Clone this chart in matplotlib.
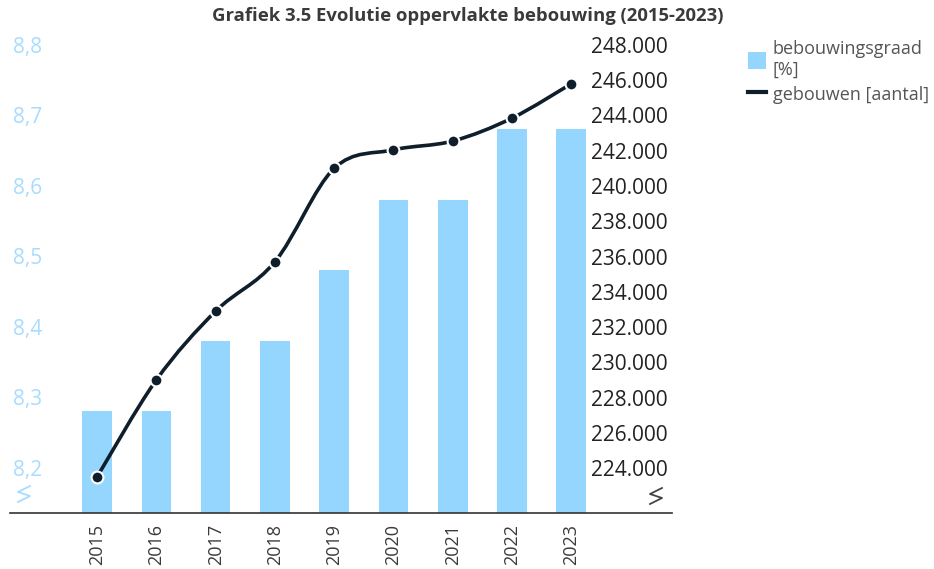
import matplotlib
matplotlib.use('Agg')
import matplotlib.pyplot as plt
from matplotlib.path import Path
from matplotlib.patches import PathPatch, Patch
from matplotlib.lines import Line2D
import numpy as np

plt.rcParams['font.family'] = ['Open Sans', 'DejaVu Sans']

# Data
years = ['2015', '2016', '2017', '2018', '2019', '2020', '2021', '2022', '2023']
bebouwingsgraad = [8.28, 8.28, 8.38, 8.38, 8.48, 8.58, 8.58, 8.68, 8.68]
gebouwen = [223500, 229000, 232900, 235700, 241000, 242050, 242550, 243850, 245800]
left_ticks = [8.2, 8.3, 8.4, 8.5, 8.6, 8.7, 8.8]
right_ticks = [224000, 226000, 228000, 230000, 232000, 234000, 236000,
               238000, 240000, 242000, 244000, 246000, 248000]

bar_color = '#94d6fe'
line_color = '#0f1e2b'
text_color = '#3a3a3a'
left_label_color = '#a8dcff'

fig = plt.figure(figsize=(9.34, 5.69), dpi=100)
W, H = 934, 569
ax = fig.add_axes([10 / W, (H - 513) / H, (672 - 10) / W, (513 - 30) / H])
ax2 = ax.twinx()

x = np.arange(len(years))
ax.bar(x, bebouwingsgraad, width=0.5, color=bar_color, zorder=1)
ax.set_xlim(-1.47, 9.70)
ax.set_ylim(8.136, 8.821)
ax2.set_ylim(221447, 248851)

# smooth line (catmull-rom as bezier path in data coords)
pts = np.column_stack([x, gebouwen]).astype(float)
verts = [tuple(pts[0])]
codes = [Path.MOVETO]
n = len(pts)
for i in range(n - 1):
    p0 = pts[i - 1] if i > 0 else pts[i]
    p1 = pts[i]
    p2 = pts[i + 1]
    p3 = pts[i + 2] if i + 2 < n else pts[i + 1]
    c1 = p1 + (p2 - p0) / 6.0
    c2 = p2 - (p3 - p1) / 6.0
    verts += [tuple(c1), tuple(c2), tuple(p2)]
    codes += [Path.CURVE4] * 3
ax2.add_patch(PathPatch(Path(verts, codes), facecolor='none', edgecolor=line_color,
                        lw=2.6, zorder=3, capstyle='round'))
ax2.plot(x, gebouwen, 'o', ms=8.5, mfc=line_color, mec='white', mew=1.5, zorder=4)

# axes styling
for a in (ax, ax2):
    for s in ('top', 'left', 'right'):
        a.spines[s].set_visible(False)
ax2.spines['bottom'].set_visible(False)
ax.spines['bottom'].set_color('#333333')
ax.spines['bottom'].set_linewidth(1.2)

ax.set_xticks(x)
ax.set_xticklabels(years, rotation=90, fontsize=13, color=text_color)
ax.tick_params(axis='x', length=0, pad=8)

ax.set_yticks(left_ticks)
ax.set_yticklabels([f'{v:.1f}'.replace('.', ',') for v in left_ticks])
ax.tick_params(axis='y', length=0, pad=-2, labelsize=15, labelcolor=left_label_color)
for lbl in ax.get_yticklabels():
    lbl.set_horizontalalignment('left')

ax2.set_yticks(right_ticks)
ax2.set_yticklabels([f'{v:,}'.replace(',', '.') for v in right_ticks])
ax2.tick_params(axis='y', length=0, pad=-3, labelsize=15, labelcolor='#222222')
for lbl in ax2.get_yticklabels():
    lbl.set_horizontalalignment('right')

# axis break marks
def zigzag(px, py, color):
    xs = np.array([px + 6, px - 6, px + 6, px - 6]) / W
    ys = 1 - np.array([py - 8, py - 2, py + 2, py + 8]) / H
    fig.add_artist(Line2D(xs, ys, color=color, lw=1.3, transform=fig.transFigure))

zigzag(24, 494, left_label_color)
zigzag(656, 496, '#444444')

fig.text(468 / W, 1 - 16 / H, 'Grafiek 3.5 Evolutie oppervlakte bebouwing (2015-2023)',
         ha='center', va='center', fontsize=13.3, fontweight='bold', color=text_color)

handles = [Patch(facecolor=bar_color, edgecolor='none'),
           Line2D([], [], color=line_color, lw=3)]
leg = fig.legend(handles, ['bebouwingsgraad\n[%]', 'gebouwen [aantal]'],
                 loc='upper left', bbox_to_anchor=(741 / W, 1 - 33 / H),
                 frameon=False, fontsize=13, handlelength=1.0, handleheight=1.0,
                 handletextpad=0.35, labelspacing=0.35, borderaxespad=0)
for t in leg.get_texts():
    t.set_color('#555555')

fig.savefig('out.png', dpi=100)
